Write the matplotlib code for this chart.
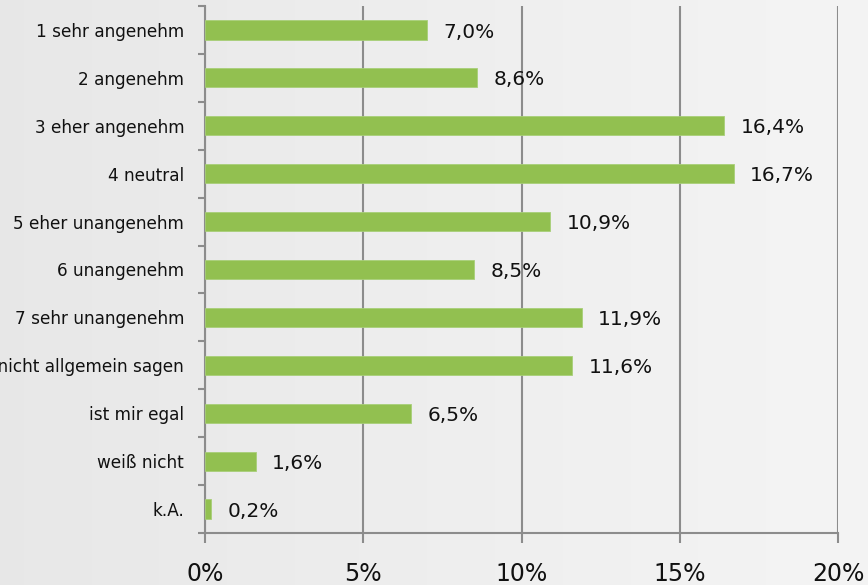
import matplotlib
matplotlib.use("Agg")
import matplotlib.pyplot as plt
import numpy as np

categories = [
    "1 sehr angenehm",
    "2 angenehm",
    "3 eher angenehm",
    "4 neutral",
    "5 eher unangenehm",
    "6 unangenehm",
    "7 sehr unangenehm",
    "kann ich nicht allgemein sagen",
    "ist mir egal",
    "weiß nicht",
    "k.A.",
]
values = [7.0, 8.6, 16.4, 16.7, 10.9, 8.5, 11.9, 11.6, 6.5, 1.6, 0.2]
x_ticks = [0, 5, 10, 15, 20]

bg = "#ececec"
bar_color = "#92c050"
grid_color = "#8c8c8c"

fig = plt.figure(figsize=(8.68, 5.85), dpi=100, facecolor=bg)

# soft left-to-right background shading like the slide behind the chart
bg_ax = fig.add_axes([0, 0, 1, 1], zorder=-1)
bg_ax.imshow(np.linspace(0.905, 0.955, 256)[None, :], cmap="gray",
             vmin=0, vmax=1, aspect="auto", extent=[0, 1, 0, 1])
bg_ax.set_axis_off()

ax = fig.add_axes([205 / 868, 1 - 533 / 585, 633 / 868, 527 / 585])
ax.set_facecolor("none")

y = np.arange(len(categories))
ax.barh(y, values, height=0.4, color=bar_color, edgecolor="#a8cf78",
        linewidth=0.6, zorder=3)

for yi, v in zip(y, values):
    ax.annotate(f"{v:.1f}%".replace(".", ","), xy=(v, yi), xytext=(12, -1.5),
                textcoords="offset points", va="center", ha="left",
                fontsize=14.5, color="#111111", zorder=4)

ax.set_xlim(0, 20)
ax.set_ylim(len(categories) - 0.5, -0.5)
ax.set_xticks(x_ticks)
ax.set_xticklabels([f"{t}%" for t in x_ticks], fontsize=17, color="#111111")
ax.set_yticks(y)
ax.set_yticklabels(categories, fontsize=12.2, color="#111111")
ax.set_yticks(np.arange(len(categories) + 1) - 0.5, minor=True)

ax.tick_params(axis="y", which="major", length=0, pad=15)
ax.tick_params(axis="y", which="minor", length=5, width=1.5, color=grid_color)
ax.tick_params(axis="x", length=7, width=1.5, color=grid_color, pad=14)

ax.grid(axis="x", color=grid_color, linewidth=1.5, zorder=0)
ax.set_axisbelow(True)
for side in ["top", "right"]:
    ax.spines[side].set_visible(False)
for side in ["left", "bottom"]:
    ax.spines[side].set_color(grid_color)
    ax.spines[side].set_linewidth(1.5)

fig.savefig("out.png", dpi=100, facecolor=bg)
